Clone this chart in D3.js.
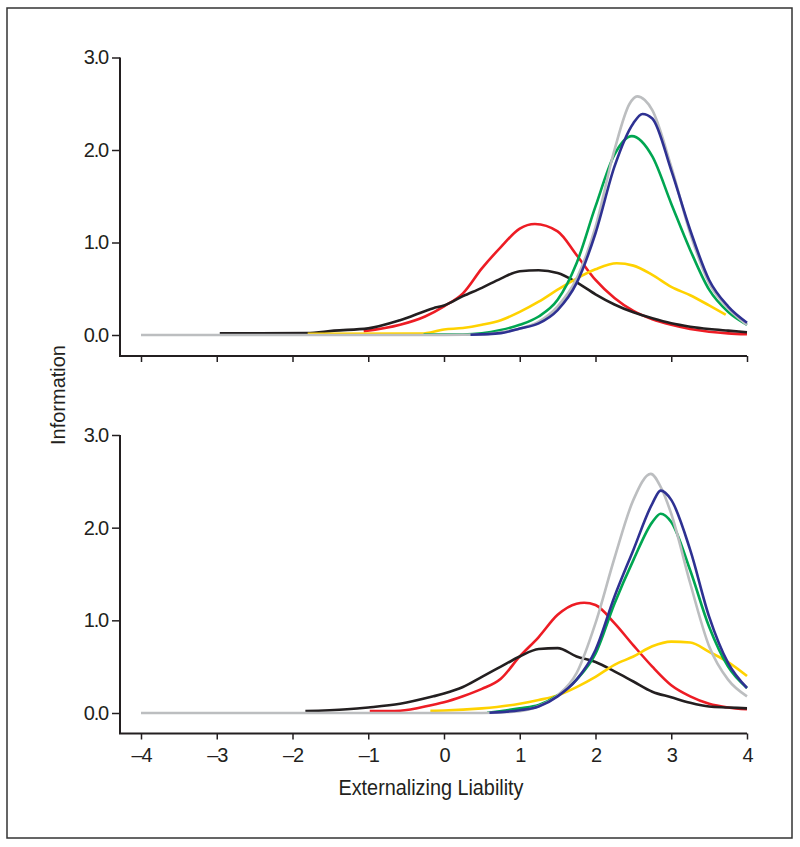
<!DOCTYPE html>
<html>
<head>
<meta charset="utf-8">
<script src="https://cdn.jsdelivr.net/npm/d3@7"></script>
<style>
  body { margin: 0; background: #fff; }
  text { font-family: "Liberation Sans", Arial, Helvetica, sans-serif; fill: #231f20; }
</style>
</head>
<body>
<script>
///////////////////   Data   /////////////////

var xTicks = [-4, -3, -2, -1, 0, 1, 2, 3, 4],
    yTicks = [0, 1, 2, 3];

// upper panel, [liability, information]
var topRed = [[-1.06,0.04],[-0.58,0.11],[-0.25,0.2],[0,0.31],[0.25,0.45],[0.5,0.72],[0.75,0.95],[1,1.15],[1.2,1.2],[1.5,1.12],[1.75,0.865],[2,0.595],[2.25,0.40],[2.5,0.26],[2.75,0.17],[3,0.11],[3.25,0.065],[3.5,0.036],[3.75,0.018],[4,0.008]];
var topBlack = [[-2.96,0.018],[-1.81,0.02],[-1.45,0.047],[-1,0.072],[-0.58,0.16],[-0.14,0.29],[0,0.32],[0.25,0.42],[0.5,0.51],[0.75,0.61],[1,0.69],[1.25,0.70],[1.5,0.67],[1.75,0.57],[2,0.44],[2.25,0.33],[2.5,0.245],[2.75,0.18],[3,0.126],[3.25,0.09],[3.5,0.065],[3.75,0.047],[4,0.03]];
var topYellow = [[-1.8,0.012],[-0.3,0.015],[0,0.06],[0.25,0.075],[0.5,0.11],[0.75,0.16],[1,0.25],[1.25,0.36],[1.5,0.49],[1.75,0.61],[2,0.71],[2.28,0.775],[2.5,0.75],[2.75,0.65],[3,0.52],[3.25,0.43],[3.5,0.32],[3.72,0.22]];
var topGreen = [[-0.27,0.005],[0.25,0.006],[0.5,0.018],[0.75,0.054],[1,0.11],[1.25,0.20],[1.5,0.38],[1.75,0.775],[2,1.39],[2.25,1.95],[2.48,2.15],[2.75,1.93],[3,1.42],[3.25,0.92],[3.5,0.49],[3.75,0.25],[4,0.11]];
var topBlue = [[0.35,0.003],[0.75,0.02],[1,0.07],[1.25,0.126],[1.5,0.27],[1.75,0.56],[2,1.10],[2.25,1.82],[2.5,2.29],[2.62,2.39],[2.75,2.34],[3,1.78],[3.25,1.135],[3.5,0.595],[3.75,0.31],[4,0.133]];
var topGray = [[-4,0],[0,0],[0.5,0.005],[0.75,0.03],[1,0.068],[1.25,0.144],[1.5,0.31],[1.75,0.61],[2,1.17],[2.25,2.0],[2.45,2.5],[2.55,2.58],[2.65,2.54],[2.75,2.43],[3,1.82],[3.25,1.10],[3.5,0.56],[3.75,0.29],[4,0.108]];

// lower panel
var botRed = [[-0.98,0.02],[-0.58,0.025],[-0.14,0.09],[0,0.115],[0.25,0.18],[0.5,0.26],[0.75,0.37],[1,0.61],[1.25,0.82],[1.5,1.06],[1.75,1.18],[1.85,1.19],[2,1.165],[2.25,0.97],[2.5,0.73],[2.75,0.50],[3,0.30],[3.25,0.18],[3.5,0.10],[3.75,0.06],[4,0.04]];
var botBlack = [[-1.83,0.02],[-1.28,0.04],[-1,0.06],[-0.58,0.10],[-0.14,0.18],[0,0.21],[0.25,0.28],[0.5,0.39],[0.75,0.50],[1,0.61],[1.25,0.69],[1.5,0.70],[1.75,0.61],[2,0.55],[2.25,0.45],[2.5,0.34],[2.75,0.23],[3,0.17],[3.25,0.11],[3.5,0.07],[3.75,0.06],[4,0.05]];
var botYellow = [[-0.18,0.025],[0,0.027],[0.5,0.05],[1,0.10],[1.25,0.14],[1.5,0.19],[1.75,0.28],[2,0.39],[2.25,0.52],[2.5,0.61],[2.75,0.72],[3,0.77],[3.25,0.76],[3.5,0.66],[3.75,0.55],[4,0.40]];
var botGreen = [[0.57,0.003],[1,0.05],[1.25,0.086],[1.5,0.19],[1.75,0.36],[2,0.64],[2.25,1.18],[2.5,1.65],[2.75,2.06],[2.86,2.15],[3,2.06],[3.25,1.54],[3.5,0.93],[3.75,0.50],[4,0.27]];
var botBlue = [[0.6,0.003],[1,0.03],[1.25,0.07],[1.5,0.18],[1.75,0.36],[2,0.68],[2.25,1.255],[2.5,1.76],[2.75,2.26],[2.86,2.40],[3,2.30],[3.25,1.76],[3.5,1.04],[3.75,0.54],[4,0.27]];
var botGray = [[-4,0],[0.5,0],[1,0.02],[1.25,0.075],[1.5,0.19],[1.75,0.43],[2,0.97],[2.25,1.67],[2.5,2.30],[2.73,2.58],[2.86,2.44],[3,2.15],[3.25,1.40],[3.5,0.72],[3.75,0.36],[4,0.18]];

var colors = {
    "red": "#ed1c24",
    "black": "#231f20",
    "yellow": "#ffd200",
    "green": "#00a651",
    "blue": "#2e3192",
    "gray": "#bcbec0"
};

////////////////    Layout    //////////////

var W = 800, H = 847,
    axisLeft = 120,     // y axis line sits a bit left of x=-4
    xLeft = 141, xRight = 747;

var panels = [
    { y0: 335, y3: 57.5, axisY: 356, labels: false,
      series: [[topRed,"red"],[topBlack,"black"],[topYellow,"yellow"],[topGreen,"green"],[topGray,"gray"],[topBlue,"blue"]] },
    { y0: 713, y3: 435, axisY: 733.5, labels: true,
      series: [[botRed,"red"],[botBlack,"black"],[botYellow,"yellow"],[botGreen,"green"],[botGray,"gray"],[botBlue,"blue"]] }
];

var svg = d3.select("body").append("svg")
    .attr("width", W)
    .attr("height", H);

// outer frame
svg.append("rect")
    .attr("x", 7).attr("y", 8)
    .attr("width", 785).attr("height", 830)
    .attr("fill", "none")
    .attr("stroke", "#333")
    .attr("stroke-width", 1.5);

var x = d3.scaleLinear().domain([-4, 4]).range([xLeft, xRight]);

var fmtX = function(d) { return d < 0 ? "\u2013" + Math.abs(d) : String(d); };

panels.forEach(function(p) {
    var y = d3.scaleLinear().domain([0, 3]).range([p.y0, p.y3]);
    var g = svg.append("g");

    // curves
    var line = d3.line()
        .x(function(d) { return x(d[0]); })
        .y(function(d) { return y(d[1]); })
        .curve(d3.curveMonotoneX);

    p.series.forEach(function(s) {
        g.append("path")
            .attr("d", line(s[0]))
            .attr("fill", "none")
            .attr("stroke", colors[s[1]])
            .attr("stroke-width", 2.6)
            .attr("stroke-linejoin", "round");
    });

    // y axis
    var ya = g.append("g")
        .attr("transform", "translate(" + axisLeft + ",0)")
        .call(d3.axisLeft(y).tickValues(yTicks).tickFormat(d3.format(".1f"))
              .tickSize(8).tickPadding(4).tickSizeOuter(0));
    ya.select(".domain").remove();
    ya.append("line")
        .attr("y1", p.y3).attr("y2", p.axisY)
        .attr("stroke", "#231f20").attr("stroke-width", 2);

    // x axis
    var xa = g.append("g")
        .attr("transform", "translate(0," + p.axisY + ")")
        .call(d3.axisBottom(x).tickValues(xTicks).tickFormat(p.labels ? fmtX : "")
              .tickSize(6).tickPadding(8).tickSizeOuter(0));
    xa.select(".domain").remove();
    xa.append("line")
        .attr("x1", axisLeft - 1).attr("x2", xRight)
        .attr("stroke", "#231f20").attr("stroke-width", 2);

    [ya, xa].forEach(function(a) {
        a.selectAll(".tick line").attr("stroke", "#231f20").attr("stroke-width", 1.5);
        a.selectAll(".tick text")
            .style("font-family", "'Liberation Sans', Arial, sans-serif")
            .style("font-size", "20px")
            .style("letter-spacing", "-1.2px")
            .attr("fill", "#231f20");
    });
});

// axis titles (condensed to the width of the original lettering)
svg.append("text")
    .attr("x", 431).attr("y", 795)
    .attr("text-anchor", "middle")
    .attr("textLength", 185)
    .attr("lengthAdjust", "spacingAndGlyphs")
    .style("font-size", "21.5px")
    .text("Externalizing Liability");

svg.append("text")
    .attr("transform", "translate(65,395) rotate(-90)")
    .attr("text-anchor", "middle")
    .attr("textLength", 100)
    .attr("lengthAdjust", "spacingAndGlyphs")
    .style("font-size", "21px")
    .text("Information");
</script>
</body>
</html>
